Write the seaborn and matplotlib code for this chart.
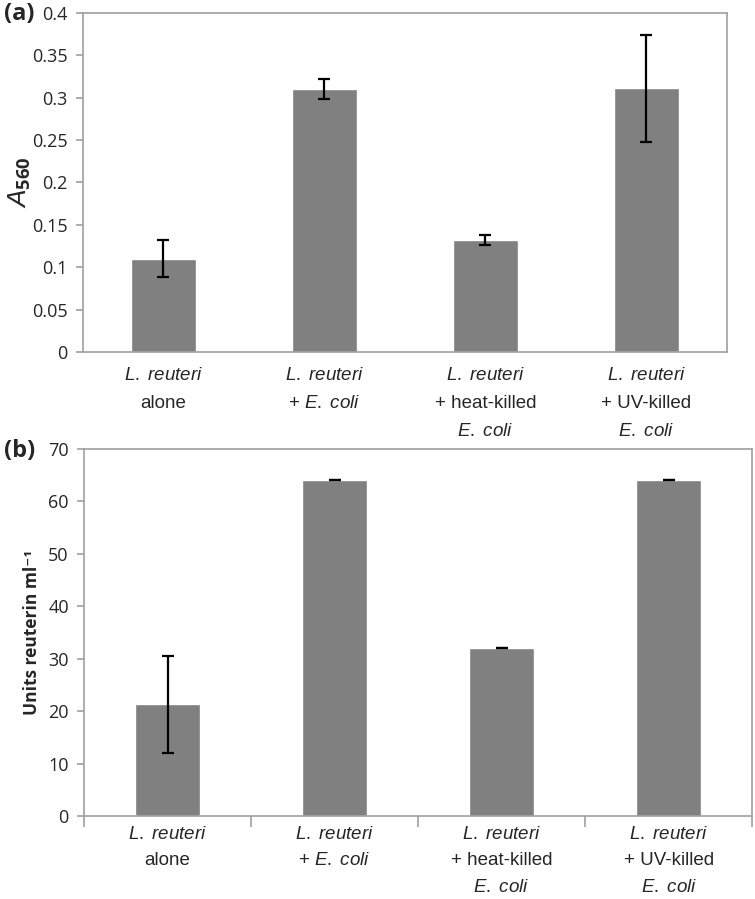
import numpy as np
import pandas as pd
import matplotlib
matplotlib.use('Agg')
import matplotlib.pyplot as plt
import seaborn as sns
from matplotlib import font_manager
from matplotlib.ticker import FuncFormatter, MultipleLocator, FixedLocator

# data
categories = ['alone', 'E. coli', 'heat-killed', 'UV-killed']
tick_labels = [
    r'$\it{L.\ reuteri}$' + '\nalone',
    r'$\it{L.\ reuteri}$' + '\n+ ' + r'$\it{E.\ coli}$',
    r'$\it{L.\ reuteri}$' + '\n+ heat-killed\n' + r'$\it{E.\ coli}$',
    r'$\it{L.\ reuteri}$' + '\n+ UV-killed\n' + r'$\it{E.\ coli}$',
]
a560_mean = [0.110, 0.310, 0.132, 0.311]
a560_err = [0.022, 0.012, 0.0055, 0.063]
reuterin_mean = [21.33, 64.0, 32.0, 64.0]
reuterin_err = [9.24, 0.0, 0.0, 0.0]

sns.set_style('white')

names = {f.name for f in font_manager.fontManager.ttflist}
narrow = 'Liberation Sans Narrow' if 'Liberation Sans Narrow' in names else 'Liberation Sans'
plt.rcParams['font.family'] = ['Open Sans', 'DejaVu Sans']
plt.rcParams['mathtext.fontset'] = 'custom'
plt.rcParams['mathtext.it'] = narrow + ':italic'
plt.rcParams['mathtext.rm'] = 'Open Sans'
plt.rcParams['mathtext.bf'] = 'Open Sans:bold'

bar_color = '#808080'
spine_color = '#a0a0a0'

fig = plt.figure(figsize=(7.55, 8.99), dpi=100)
ax_a = fig.add_axes([0.1099, 0.6085, 0.853, 0.377])
ax_b = fig.add_axes([0.1113, 0.0923, 0.885, 0.4083])

df_a = pd.DataFrame({'group': categories, 'value': a560_mean})
df_b = pd.DataFrame({'group': categories, 'value': reuterin_mean})

sns.barplot(data=df_a, x='group', y='value', color=bar_color, width=0.4,
            errorbar=None, saturation=1, ax=ax_a)
sns.barplot(data=df_b, x='group', y='value', color=bar_color, width=0.39,
            errorbar=None, saturation=1, ax=ax_b)

pos = np.arange(len(categories))
ax_a.errorbar(pos, a560_mean, yerr=a560_err, fmt='none', ecolor='black',
              elinewidth=1.6, capsize=4, capthick=1.6)
ax_b.errorbar(pos, reuterin_mean, yerr=reuterin_err, fmt='none', ecolor='black',
              elinewidth=1.6, capsize=4, capthick=1.6)

for ax, ls in ((ax_a, 1.85), (ax_b, 1.75)):
    ax.set_xlim(-0.5, 3.5)
    ax.set_xlabel('')
    ax.set_xticks(pos)
    ax.set_xticklabels(tick_labels, fontsize=13.5, family=narrow, linespacing=ls)
    for s in ax.spines.values():
        s.set_color(spine_color)
        s.set_linewidth(1.2)
    ax.tick_params(axis='y', which='major', length=5, width=1.2, color=spine_color,
                   labelsize=13, pad=6, left=True)

ax_a.set_ylim(0, 0.4)
ax_a.yaxis.set_major_locator(MultipleLocator(0.05))
ax_a.yaxis.set_major_formatter(FuncFormatter(lambda v, p: f'{v:g}'))
ax_a.tick_params(axis='x', length=0, pad=11)
ax_a.set_ylabel(r'$\mathit{A}_{\mathbf{560}}$', fontsize=19)
ax_a.yaxis.set_label_coords(-0.078, 0.5)

ax_b.set_ylim(0, 70)
ax_b.yaxis.set_major_locator(MultipleLocator(10))
ax_b.tick_params(axis='x', which='major', length=0, pad=7)
ax_b.xaxis.set_minor_locator(FixedLocator(np.arange(-0.5, 4, 1.0)))
ax_b.tick_params(axis='x', which='minor', bottom=True, length=8, width=1.2,
                 color=spine_color)
ax_b.set_ylabel('Units reuterin ml⁻¹', fontsize=12.5, fontweight='bold')
ax_b.yaxis.set_label_coords(-0.064, 0.5)

fig.text(0.005, 0.984, '(a)', fontsize=17, fontweight='bold', va='center', ha='left')
fig.text(0.005, 0.498, '(b)', fontsize=17, fontweight='bold', va='center', ha='left')

fig.savefig('out.png', dpi=100)
